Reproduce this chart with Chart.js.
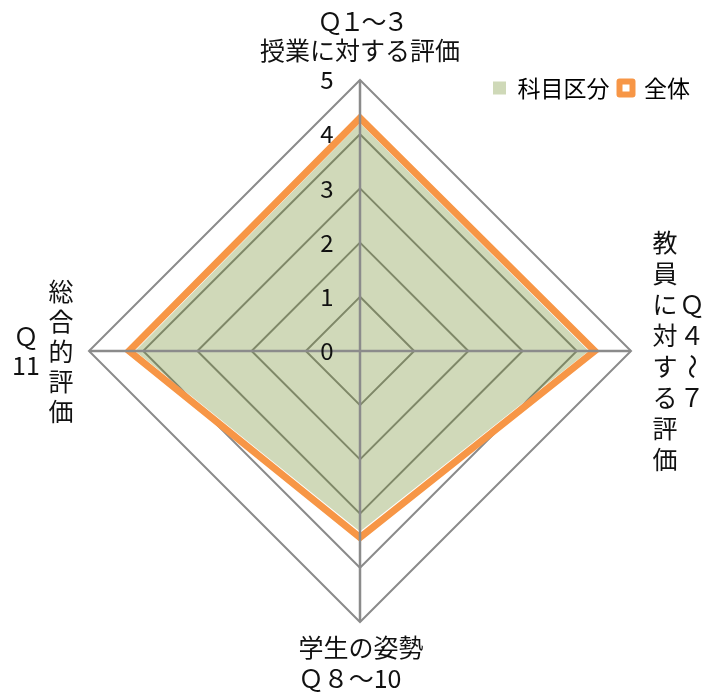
<!DOCTYPE html>
<html><head><meta charset="utf-8">
<script src="https://cdn.jsdelivr.net/npm/chart.js@4.4.1/dist/chart.umd.min.js"></script>
<style>html,body{margin:0;padding:0;background:#fff;overflow:hidden}canvas{display:block}</style>
</head><body>
<canvas id="c" width="717" height="693"></canvas>
<script>
// ---- data ----
const categories = [
  ["Ｑ１～３", "授業に対する評価"],
  ["Ｑ４～７", "教員に対する評価"],
  ["学生の姿勢", "Ｑ８～10"],
  ["総合的評価", "Ｑ11"]
];
const seriesNames = ["科目区分", "全体"];
const kamokuValues = [4.20, 4.22, 3.33, 4.15];
const zentaiValues = [4.30, 4.33, 3.44, 4.26];
const tickLabels = ["0", "1", "2", "3", "4", "5"];

// ---- style ----
const FONT = "'Noto Sans CJK JP', 'Noto Sans', sans-serif";
const TEXT = '#111111';
const GRID = '#8b8b8b';
const ORANGE = '#f79646';
const GREEN_FILL = 'rgba(98,128,22,0.30)';
const GREEN_LEGEND = 'rgb(207,217,184)';
const LEGEND_ROW_CENTER = 88;

// label layouts (style only): horizontal lines or vertical columns relative to axis tip
const labelLayout = [
  {mode: 'h', lines: [{dx: 0, dy: -59, size: 25, ls: -3}, {dx: 0, dy: -30, size: 25, ls: 0}]},
  {mode: 'v', cols: [{dx: 61, row: 31, size: 25}, {dx: 34, row: 31, size: 25}]},
  {mode: 'h', lines: [{dx: 1, dy: 25, size: 25, ls: 0}, {dx: -10, dy: 56, size: 25, ls: 0}]},
  {mode: 'v', cols: [{dx: -28, row: 30, size: 25}, {dx: -63, row: 29, size: 25}]}
];

function drawColumn(ctx, text, cx, cy, rowH) {
  const tokens = text.match(/[0-9]+|./g);
  const n = tokens.length;
  tokens.forEach((t, i) => {
    const y = cy + (i - (n - 1) / 2) * rowH;
    if (t === '～') {
      ctx.save();
      ctx.translate(cx, y);
      ctx.rotate(Math.PI / 2);
      ctx.fillText(t, 0, 0);
      ctx.restore();
    } else {
      ctx.fillText(t, cx, y);
    }
  });
}

const legendShift = {
  id: 'legendShift',
  afterLayout(chart) {
    const lg = chart.legend;
    if (!lg) return;
    const pad = lg.options.labels.padding;
    const itemH = Math.max(lg.options.labels.font.size, lg.options.labels.boxHeight);
    const shift = LEGEND_ROW_CENTER - (lg.top + pad + itemH / 2);
    lg.top += shift;
    lg.bottom += shift;
  }
};

const overlay = {
  id: 'overlay',
  afterDatasetsDraw(chart) {
    const s = chart.scales.r;
    const ctx = chart.ctx;
    ctx.save();
    // angle lines drawn over the series
    ctx.strokeStyle = GRID;
    ctx.lineWidth = 2.5;
    for (let i = 0; i < chart.data.labels.length; i++) {
      const p = s.getPointPositionForValue(i, s.max);
      ctx.beginPath();
      ctx.moveTo(s.xCenter, s.yCenter);
      ctx.lineTo(p.x, p.y);
      ctx.stroke();
    }
    // tick labels left of the vertical axis
    ctx.fillStyle = TEXT;
    ctx.font = '24px ' + FONT;
    ctx.textAlign = 'center';
    ctx.textBaseline = 'middle';
    s.ticks.forEach((t, i) => {
      const y = s.yCenter - s.getDistanceFromCenterForValue(t.value);
      ctx.fillText(tickLabels[i], s.xCenter - 33, y);
    });
    // point labels
    categories.forEach((lab, i) => {
      const tip = s.getPointPositionForValue(i, s.max);
      const L = labelLayout[i];
      if (L.mode === 'h') {
        lab.forEach((line, j) => {
          const o = L.lines[j];
          ctx.font = o.size + 'px ' + FONT;
          ctx.letterSpacing = o.ls + 'px';
          ctx.fillText(line, tip.x + o.dx - o.ls / 2, tip.y + o.dy);
          ctx.letterSpacing = '0px';
        });
      } else {
        lab.forEach((line, j) => {
          const o = L.cols[j];
          ctx.font = o.size + 'px ' + FONT;
          drawColumn(ctx, line, tip.x + o.dx, tip.y, o.row);
        });
      }
    });
    ctx.restore();
  }
};

new Chart(document.getElementById('c'), {
  type: 'radar',
  data: {
    labels: categories.map(c => c.join(' ')),
    datasets: [
      {
        label: seriesNames[0],
        data: kamokuValues,
        backgroundColor: GREEN_FILL,
        borderWidth: 0,
        borderColor: 'rgba(0,0,0,0)',
        fill: 'origin',
        pointRadius: 0,
        order: 1
      },
      {
        label: seriesNames[1],
        data: zentaiValues,
        borderColor: ORANGE,
        borderWidth: 7,
        borderJoinStyle: 'miter',
        fill: false,
        pointRadius: 0,
        order: 0
      }
    ]
  },
  options: {
    responsive: false,
    devicePixelRatio: 1,
    animation: false,
    events: [],
    elements: {line: {tension: 0}},
    layout: {padding: {top: 37, bottom: 71, left: 20, right: 17}},
    scales: {
      r: {
        min: 0,
        max: 5,
        ticks: {stepSize: 1, display: false},
        grid: {color: GRID, lineWidth: 2, circular: false},
        angleLines: {display: false},
        pointLabels: {display: false}
      }
    },
    plugins: {
      tooltip: {enabled: false},
      legend: {
        position: 'top',
        align: 'end',
        labels: {
          boxWidth: 13,
          boxHeight: 13,
          padding: 10,
          color: TEXT,
          font: {family: FONT, size: 23},
          generateLabels: () => [
            {text: seriesNames[0], fillStyle: GREEN_LEGEND, strokeStyle: GREEN_LEGEND, lineWidth: 0, hidden: false, datasetIndex: 0},
            {text: seriesNames[1], fillStyle: '#ffffff', strokeStyle: ORANGE, lineWidth: 6, lineJoin: 'round', hidden: false, datasetIndex: 1}
          ]
        }
      }
    }
  },
  plugins: [legendShift, overlay]
});
</script>
</body></html>
